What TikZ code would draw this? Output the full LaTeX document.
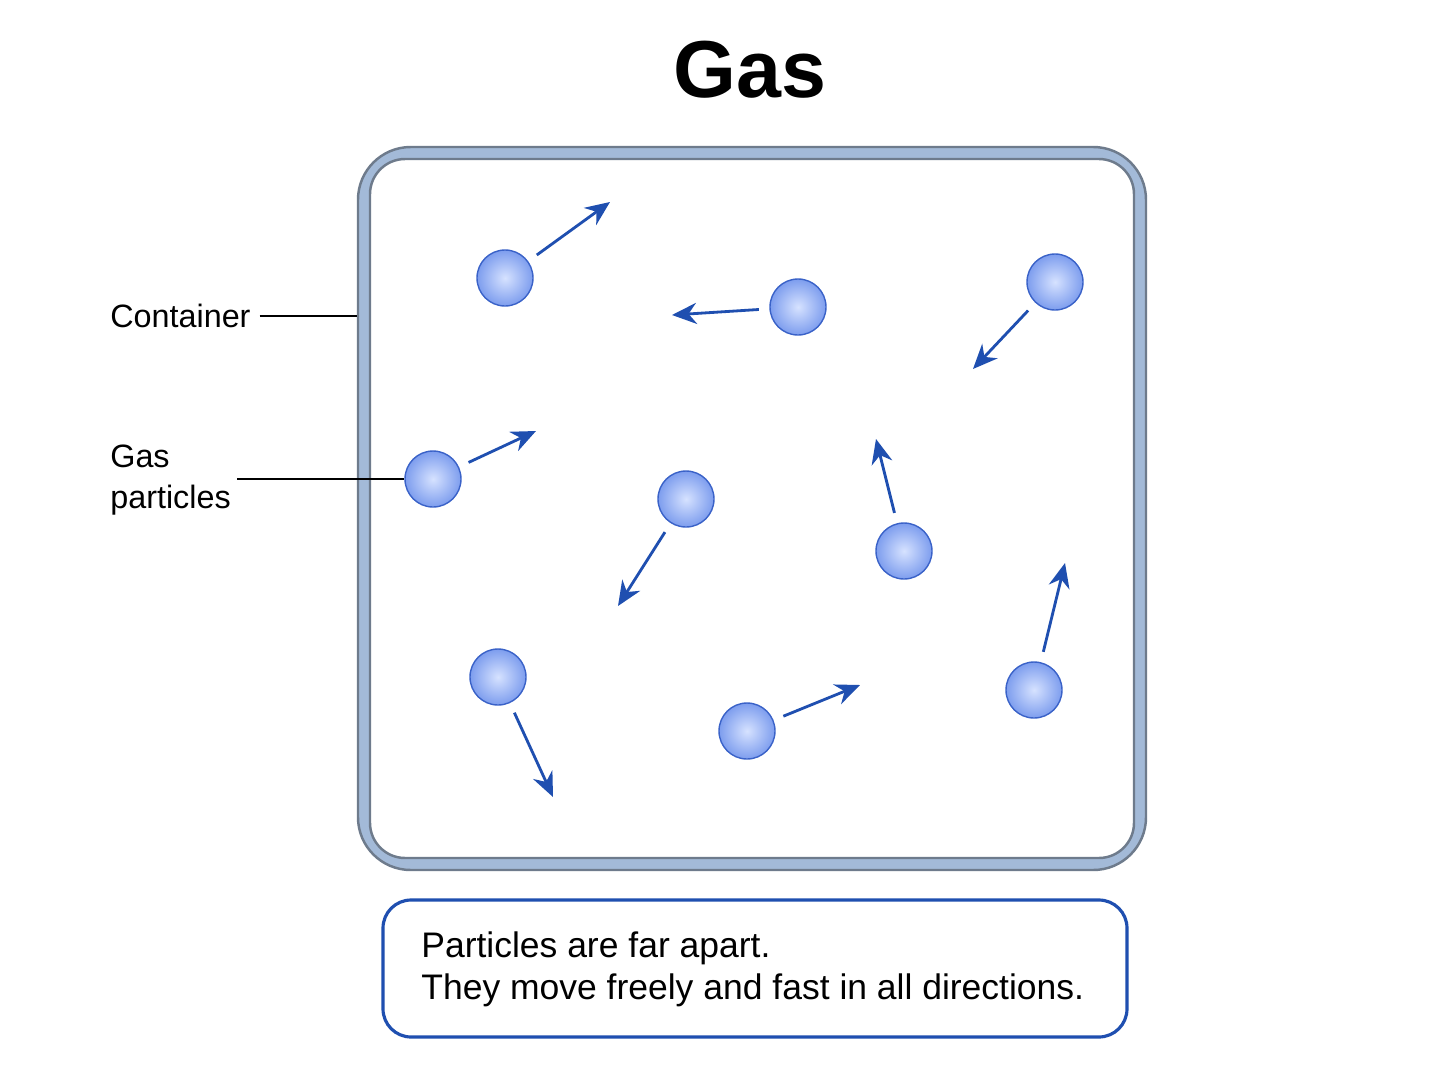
\documentclass[tikz,border=0pt]{standalone}
\usepackage{fontspec}
\setmainfont{Liberation Sans}
\usetikzlibrary{arrows.meta}
\definecolor{wallblue}{HTML}{A3BAD8}
\definecolor{wallgrey}{HTML}{6E7B8C}
\definecolor{arrowblue}{HTML}{1F4FB0}
\definecolor{ballblue}{HTML}{7D9DEE}
\definecolor{ballshine}{HTML}{D6E2FF}
\definecolor{balledge}{HTML}{3A62C8}
\tikzset{
  particle/.style={circle,minimum size=56*0.02cm,inner sep=0pt,draw=balledge,thick,
    shading=radial,inner color=ballshine,outer color=ballblue},
  motion/.style={arrowblue,line width=1.6pt,-{Stealth[length=14pt,width=12pt]}},
  pointer/.style={line width=1.2pt,black},
  label/.style={font=\fontsize{18.4}{23}\selectfont,anchor=west,align=left,inner sep=0pt}
}
\begin{document}
\begin{tikzpicture}[x=0.02cm,y=-0.02cm]
	\useasboundingbox[fill=white] (0,0) rectangle (1448,1086);
	\node[font=\bfseries\fontsize{46}{50}\selectfont] (title) at (750,70) {Gas};
	% container
	\draw[wallgrey,line width=1.4pt,fill=wallblue,rounded corners=30] (358,147) rectangle (1146,870);
	\draw[wallgrey,line width=1.4pt,fill=white,rounded corners=20] (370,159) rectangle (1134,858);
	\coordinate (wall) at (357,316);
	% particles
	\foreach \n/\x/\y/\tx/\ty in {1/505/278/610/202, 2/798/307/672/315, 3/1055/282/973/369,
	  4/433/479/536/431, 5/686/499/618/606, 6/904/551/876/439,
	  7/498/677/553/797, 8/747/731/860/685, 9/1034/690/1065/563}{
	  \node[particle] (p\n) at (\x,\y) {};
	  \coordinate (t\n) at (\tx,\ty);
	  \draw[motion,shorten <=6pt] (p\n) -- (t\n);
	}
	% labels
	\node[label] (cont) at (110,316) {Container};
	\draw[pointer] ([xshift=5pt]cont.east) -- (wall);
	\node[label] (gas) at (110,480) {Gas\\particles};
	\coordinate (gasl) at (237,479);
	\draw[pointer] (gasl) -- (p4.west);
	% note
	\draw[arrowblue,line width=1.8pt,rounded corners=16] (383,900) rectangle (1127,1037);
	\node[label,font=\fontsize{20.2}{24}\selectfont,text depth=0pt] (note) at (421,966)
	  {Particles are far apart.\\They move freely and fast in all directions.};
\end{tikzpicture}
\end{document}
